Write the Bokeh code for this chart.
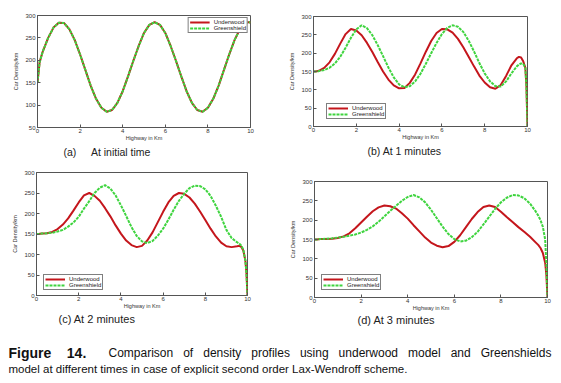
from bokeh.plotting import figure
from bokeh.layouts import column, row
from bokeh.models import Range1d, Label, Legend, LegendItem, FixedTicker, Title
from bokeh.embed import file_html
from bokeh.resources import INLINE

# ---------------- data ----------------
KM = [0, 0.1, 0.25, 0.5, 0.75,
      1.0, 1.25, 1.5, 1.75,
      2.0, 2.25, 2.5, 2.75,
      3.0, 3.25, 3.5, 3.75,
      4.0, 4.25, 4.5, 4.75,
      5.0, 5.25, 5.5, 5.75,
      6.0, 6.25, 6.5, 6.75,
      7.0, 7.25, 7.5, 7.75,
      8.0, 8.25, 8.5, 8.75,
      9.0, 9.25, 9.5,
      9.6, 9.7, 9.8, 9.9, 9.95, 10.0]

X_TICKS = [0, 2, 4, 6, 8, 10]
Y_TICKS_A = [50, 100, 150, 200, 250, 300]
Y_TICKS = [0, 50, 100, 150, 200, 250, 300]
SERIES = ["Underwood", "Greenshield"]

UNDERWOOD_A = [150, 196, 220, 250, 273,
               284, 283, 269, 245,
               213, 178, 143, 114,
               94, 85, 89, 105,
               131, 164, 199, 232,
               261, 279, 285, 279,
               261, 232, 199, 164,
               131, 105, 89, 85,
               94, 114, 143, 178,
               213, 245, 269,
               276, 281, 284, 285, 285, 284]
GREENSHIELD_A = [150, 196, 220, 250, 273,
                 284, 283, 269, 245,
                 213, 178, 143, 114,
                 94, 85, 89, 105,
                 131, 164, 199, 232,
                 261, 279, 285, 279,
                 261, 232, 199, 164,
                 131, 105, 89, 85,
                 94, 114, 143, 178,
                 213, 245, 269,
                 276, 281, 284, 285, 285, 284]

UNDERWOOD_B = [150, 150, 152, 160, 175,
               198, 226, 252, 266,
               262, 249, 228, 203,
               176, 150, 128, 112,
               104, 105, 119, 142,
               172, 204, 233, 255,
               266, 265, 256, 239,
               216, 190, 164, 139,
               120, 107, 103, 113,
               138, 167, 186,
               190, 188, 178, 160, 110, 0]
GREENSHIELD_B = [150, 150, 151, 154, 160,
                 172, 190, 215, 242,
                 265, 276, 268, 249,
                 222, 192, 161, 134,
                 115, 107, 110, 123,
                 144, 171, 200, 228,
                 252, 269, 276, 272,
                 258, 234, 205, 173,
                 145, 123, 110, 109,
                 123, 145, 164,
                 169, 172, 171, 160, 110, 0]

UNDERWOOD_C = [150, 150, 151, 152, 155,
               162, 173, 188, 207,
               227, 244, 250, 243,
               231, 213, 193, 171,
               151, 134, 123, 118,
               121, 134, 154, 179,
               204, 227, 243, 250,
               248, 239, 224, 205,
               184, 163, 144, 129,
               120, 118, 120,
               121, 119, 110, 85, 55, 0]
GREENSHIELD_C = [150, 150, 151, 152, 153,
                 156, 160, 168, 178,
                 192, 212, 230, 250,
                 263, 269, 261, 244,
                 220, 194, 167, 145,
                 132, 128, 133, 146,
                 163, 185, 209, 231,
                 248, 262, 268, 267,
                 259, 243, 219, 192,
                 160, 140, 130,
                 127, 122, 112, 85, 55, 0]

UNDERWOOD_D = [150, 150, 151, 151, 152,
               154, 158, 166, 179,
               194, 209, 223, 233,
               238, 236, 230, 218,
               204, 187, 171, 155,
               142, 134, 130, 133,
               144, 161, 182, 203,
               221, 234, 238, 234,
               222, 208, 195, 182,
               170, 157, 142,
               136, 128, 115, 90, 60, 0]
GREENSHIELD_D = [150, 150, 151, 152, 153,
                 155, 157, 160, 163,
                 168, 175, 184, 196,
                 210, 224, 237, 250,
                 260, 265, 259, 246,
                 227, 205, 183, 164,
                 151, 145, 147, 156,
                 170, 189, 209, 229,
                 246, 258, 265, 264,
                 257, 243, 222,
                 212, 200, 183, 150, 90, 0]

CAPTION_WORDS = ["Comparison", "of", "density", "profiles", "using", "underwood",
                 "model", "and", "Greenshields"]
CAPTION_LINE2 = "model at different times in case of explicit second order Lax-Wendroff scheme."

# ---------------- styling ----------------
RED = "#c4161c"
GREEN = "#3fd43f"
AXIS_COLOR = "#555555"
SANS = "Liberation Sans"
NB = "\u00a0"


def style_axis(ax):
    ax.major_tick_in = 3
    ax.major_tick_out = 0
    ax.minor_tick_in = 0
    ax.minor_tick_out = 0
    ax.axis_line_color = AXIS_COLOR
    ax.major_tick_line_color = AXIS_COLOR
    ax.major_label_text_font = SANS
    ax.major_label_text_font_size = "6px"
    ax.major_label_text_color = "#333333"
    ax.axis_label_text_font = SANS
    ax.axis_label_text_font_size = "5.5px"
    ax.axis_label_text_font_style = "normal"
    ax.axis_label_text_color = "#333333"


def make_panel(width, height, borders, y_min, y_ticks, red, green, legend_loc,
               legend_margin, caption, cap_offset, cap_standoff, cap_size):
    lb, rb, tb, bb = borders
    p = figure(width=width, height=height, x_range=Range1d(0, 10),
               y_range=Range1d(y_min, 300), output_backend="svg",
               toolbar_location=None, min_border_left=lb, min_border_right=rb,
               min_border_top=tb, min_border_bottom=bb)
    p.frame_align = False
    p.xgrid.visible = False
    p.ygrid.visible = False
    p.outline_line_color = AXIS_COLOR
    p.background_fill_color = "white"
    p.border_fill_color = "white"

    xa = p.xaxis[0]
    ya = p.yaxis[0]
    xa.ticker = FixedTicker(ticks=X_TICKS)
    ya.ticker = FixedTicker(ticks=y_ticks)
    xa.axis_label = "Highway in Km"
    ya.axis_label = "Car Density/km"
    style_axis(xa)
    style_axis(ya)
    xa.major_label_standoff = 1
    xa.axis_label_standoff = -1
    ya.major_label_standoff = 2
    ya.axis_label_standoff = 3

    r1 = p.line(KM, red, line_color=RED, line_width=2)
    r2 = p.line(KM, green, line_color=GREEN, line_width=2, line_dash="3 1")

    leg = Legend(items=[LegendItem(label=SERIES[0], renderers=[r1]),
                        LegendItem(label=SERIES[1], renderers=[r2])],
                 location=legend_loc, margin=legend_margin,
                 label_text_font=SANS, label_text_font_size="6px",
                 label_text_color="#222222", glyph_width=20, glyph_height=4,
                 label_height=4, label_standoff=4, spacing=0, padding=1,
                 border_line_color="black", border_line_width=0.8,
                 background_fill_color="white", background_fill_alpha=1)
    p.add_layout(leg)

    p.add_layout(Title(text=caption, align="left", offset=cap_offset,
                       standoff=cap_standoff, text_font=SANS,
                       text_font_size=cap_size, text_font_style="normal",
                       text_color="#222222"), "below")
    return p


pa = make_panel(280, 160, (37, 30, 15, 33), 50, Y_TICKS_A, UNDERWOOD_A, GREENSHIELD_A,
                "top_right", 2, "(a)" + NB * 5 + "At initial time", 26, 0, "10.5px")
pb = make_panel(281, 160, (33, 34, 16, 34), 0, Y_TICKS, UNDERWOOD_B, GREENSHIELD_B,
                (13, 7), 0, "(b) At 1 minutes", 54, 0, "10.5px")
pc = make_panel(280, 170, (36, 33, 12, 35), 0, Y_TICKS, UNDERWOOD_C, GREENSHIELD_C,
                (7, 5), 0, "(c) At 2 minutes", 22, -1, "11px")
pd = make_panel(281, 170, (34, 14, 21, 33), 0, Y_TICKS, UNDERWOOD_D, GREENSHIELD_D,
                (7, 7), 0, "(d) At 3 minutes", 43, -4, "11px")

cap = figure(width=561, height=53, x_range=Range1d(0, 561), y_range=Range1d(0, 53),
             output_backend="svg", toolbar_location=None, x_axis_type=None,
             y_axis_type=None, min_border=0)
cap.frame_align = False
cap.xgrid.visible = False
cap.ygrid.visible = False
cap.outline_line_color = None
cap.add_layout(Label(x=8, y=31, x_units="screen", y_units="screen",
                     text="Figure" + NB * 4 + "14.",
                     text_font=SANS, text_font_size="14px", text_font_style="bold",
                     text_color="#111111", text_baseline="middle"))
cap.add_layout(Label(x=108, y=31, x_units="screen", y_units="screen",
                     text=(NB * 3).join(CAPTION_WORDS),
                     text_font=SANS, text_font_size="12px", text_color="#111111",
                     text_baseline="middle"))
cap.add_layout(Label(x=8, y=15, x_units="screen", y_units="screen",
                     text=CAPTION_LINE2,
                     text_font=SANS, text_font_size="11.5px", text_color="#111111",
                     text_baseline="middle"))

layout = column(row(pa, pb, spacing=0), row(pc, pd, spacing=0), cap, spacing=0)
open("out.html", "w").write(file_html(layout, INLINE))
